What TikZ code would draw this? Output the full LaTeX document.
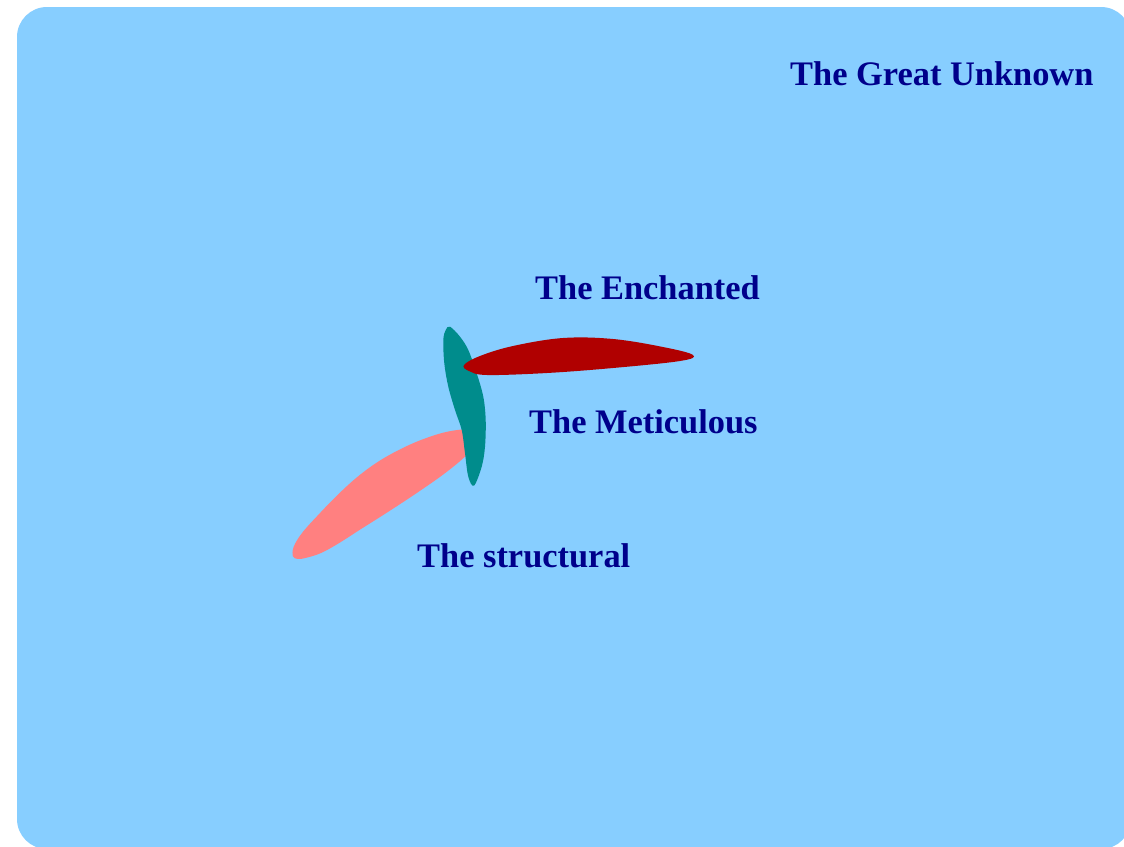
\documentclass[tikz,border=0pt]{standalone}
\usepackage{fontspec}
\setmainfont{Liberation Serif}
\definecolor{bgblue}{RGB}{135,206,255}
\definecolor{txtblue}{RGB}{0,0,139}
\definecolor{petalred}{RGB}{176,0,0}
\definecolor{petalteal}{RGB}{0,140,140}
\definecolor{petalpink}{RGB}{255,128,128}
\tikzset{
  lbl/.style={anchor=base west, inner sep=0pt, text=txtblue,
    font=\fontsize{34.4}{40}\selectfont\bfseries},
}
\begin{document}
\begin{tikzpicture}[x=1pt,y=-1pt]
\useasboundingbox (0,0) rectangle (1124,846);
\fill[white] (0,0) rectangle (1124,846);
\begin{scope}
\clip (0,0) rectangle (1124,846);
\fill[bgblue, rounded corners=30pt] (17,7) rectangle (1131,849);
\end{scope}
% pink petal (local frame along its axis)
\begin{scope}[shift={(294pt,-556pt)}, x={(0.835pt,0.550pt)}, y={(-0.550pt,0.835pt)}]
\fill[petalpink] plot[smooth cycle, tension=0.6] coordinates {
  (-1,0.5) (1.5,-4.5) (10,-8.5) (25,-12.5) (45,-14) (70,-14.3) (95,-14.8)
  (120,-15) (145,-14.8) (170,-14) (195,-11.5) (215,-7) (222,0) (215,10)
  (195,20) (170,27) (145,31) (120,32.5) (95,31) (70,27) (45,21.5) (20,15) (5,8)};
\end{scope}
% teal petal
\fill[petalteal] plot[smooth cycle, tension=0.55] coordinates {
  (450,326.7) (460,336.7) (468.3,350) (476.7,373.3) (483.3,396.7) (485.7,420)
  (485,446.7) (481.7,466.7) (474,485.7) (468.3,476.7) (465,453.3) (461.7,430)
  (455,410) (448.3,386.7) (444.3,363.3) (443.3,340) (445.7,330)};
% red petal
\fill[petalred] plot[smooth cycle, tension=0.6] coordinates {
  (464,365) (480,356) (513,346) (563,338) (613,339) (663,347) (693,355)
  (680,361) (613,368) (547,373) (487,375) (469,371)};
\node[lbl] (unknown) at (790,85) {The Great Unknown};
\node[lbl] (enchanted) at (535,299) {The Enchanted};
\node[lbl] (meticulous) at (529,433) {The Meticulous};
\node[lbl] (structural) at (417,567) {The structural};
\end{tikzpicture}
\end{document}
